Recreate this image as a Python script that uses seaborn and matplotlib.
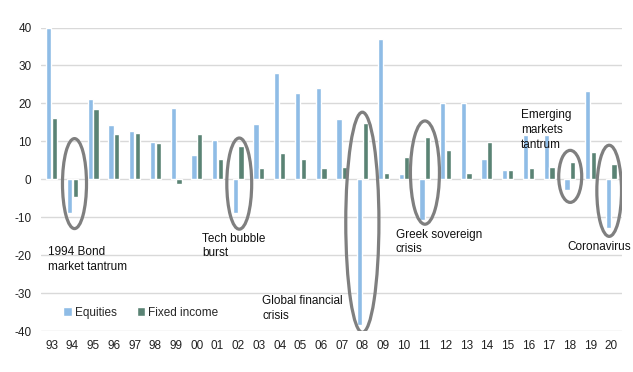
import pandas as pd
import matplotlib.pyplot as plt
import seaborn as sns
from matplotlib.patches import Ellipse

# ------------------------------
# Data (annual returns, %)
# ------------------------------
years = ["93", "94", "95", "96", "97", "98", "99", "00", "01", "02", "03", "04", "05", "06",
         "07", "08", "09", "10", "11", "12", "13", "14", "15", "16", "17", "18", "19", "20"]
equities = [39.9, -8.9, 21.1, 14.2, 12.7, 9.8, 18.7, 6.3, 10.3, -8.9, 14.5, 28.0, 22.7, 24.0,
            15.8, -38.3, 36.9, 1.3, -10.6, 20.0, 20.0, 5.5, 2.4, 11.6, 11.6, -2.7, 23.2, -12.8]
fixed_income = [16.2, -4.7, 18.5, 11.9, 12.1, 9.5, -1.2, 11.9, 5.3, 8.7, 2.9, 6.9, 5.5, 2.9,
                3.4, 14.8, 1.6, 5.8, 11.3, 7.7, 1.8, 9.8, 2.4, 2.9, 3.4, 4.5, 7.1, 4.0]
series_names = ["Equities", "Fixed income"]
colors = ["#8FBCE6", "#5A8374"]

# crisis labels and their highlight ellipses
crisis_labels = ["1994 Bond\nmarket tantrum", "Tech bubble\nburst", "Global financial\ncrisis",
                 "Greek sovereign\ncrisis", "Emerging\nmarkets\ntantrum", "Coronavirus"]
label_pos = [(-0.2, -17.6), (7.25, -14.0), (10.16, -30.4), (16.6, -13.0), (22.63, 18.5), (24.88, -16.1)]
ellipses = [(1.1, -1.1, 1.16, 23.7), (9.05, -1.1, 1.2, 24.0), (14.99, -11.3, 1.6, 58.0),
            (18.01, 1.8, 1.4, 27.2), (25.02, 0.8, 1.11, 13.7), (26.9, -3.0, 1.19, 24.0)]

df = pd.DataFrame({
    "year": years * 2,
    "value": equities + fixed_income,
    "series": [series_names[0]] * len(years) + [series_names[1]] * len(years),
})

# ------------------------------
# Plot
# ------------------------------
sns.set_style("white")
plt.rcParams["font.family"] = ["Liberation Sans", "DejaVu Sans"]
plt.rcParams["axes.unicode_minus"] = False

fig = plt.figure(figsize=(6.33, 3.72), dpi=100)
ax = fig.add_axes([0.0653, 0.1094, 0.9167, 0.8166])

sns.barplot(data=df, x="year", y="value", hue="series", order=years, hue_order=series_names,
            palette=colors, width=0.55, gap=0.08, saturation=1, ax=ax, zorder=2)

ax.set_ylim(-40, 40)
ax.set_xlim(-0.5, len(years) - 0.5)
ax.set_yticks(range(-40, 41, 10))
ax.yaxis.grid(True, color="#D9D9D9", linewidth=1, zorder=0)
ax.set_axisbelow(True)
sns.despine(ax=ax, left=True, bottom=True)
ax.set_xlabel("")
ax.set_ylabel("")
ax.tick_params(axis="x", length=0, pad=6, labelsize=8.5, colors="#222222")
ax.tick_params(axis="y", length=0, pad=7, labelsize=8.5, colors="#222222")

for (cx, cy, w, h) in ellipses:
    ax.add_patch(Ellipse((cx, cy), w, h, fill=False, edgecolor="#7F7F7F", linewidth=2.3, zorder=5))

for text, (tx, ty) in zip(crisis_labels, label_pos):
    ax.text(tx, ty, text, fontsize=8.5, ha="left", va="top", color="#111111", linespacing=1.3, zorder=6)

ax.legend(loc="center left", bbox_to_anchor=(0.038, 0.061), ncol=2, frameon=False, fontsize=8.5,
          handlelength=0.75, handleheight=0.75, handletextpad=0.2, columnspacing=1.7,
          borderpad=0, borderaxespad=0)

fig.savefig("out.png", dpi=100)
plt.close(fig)
